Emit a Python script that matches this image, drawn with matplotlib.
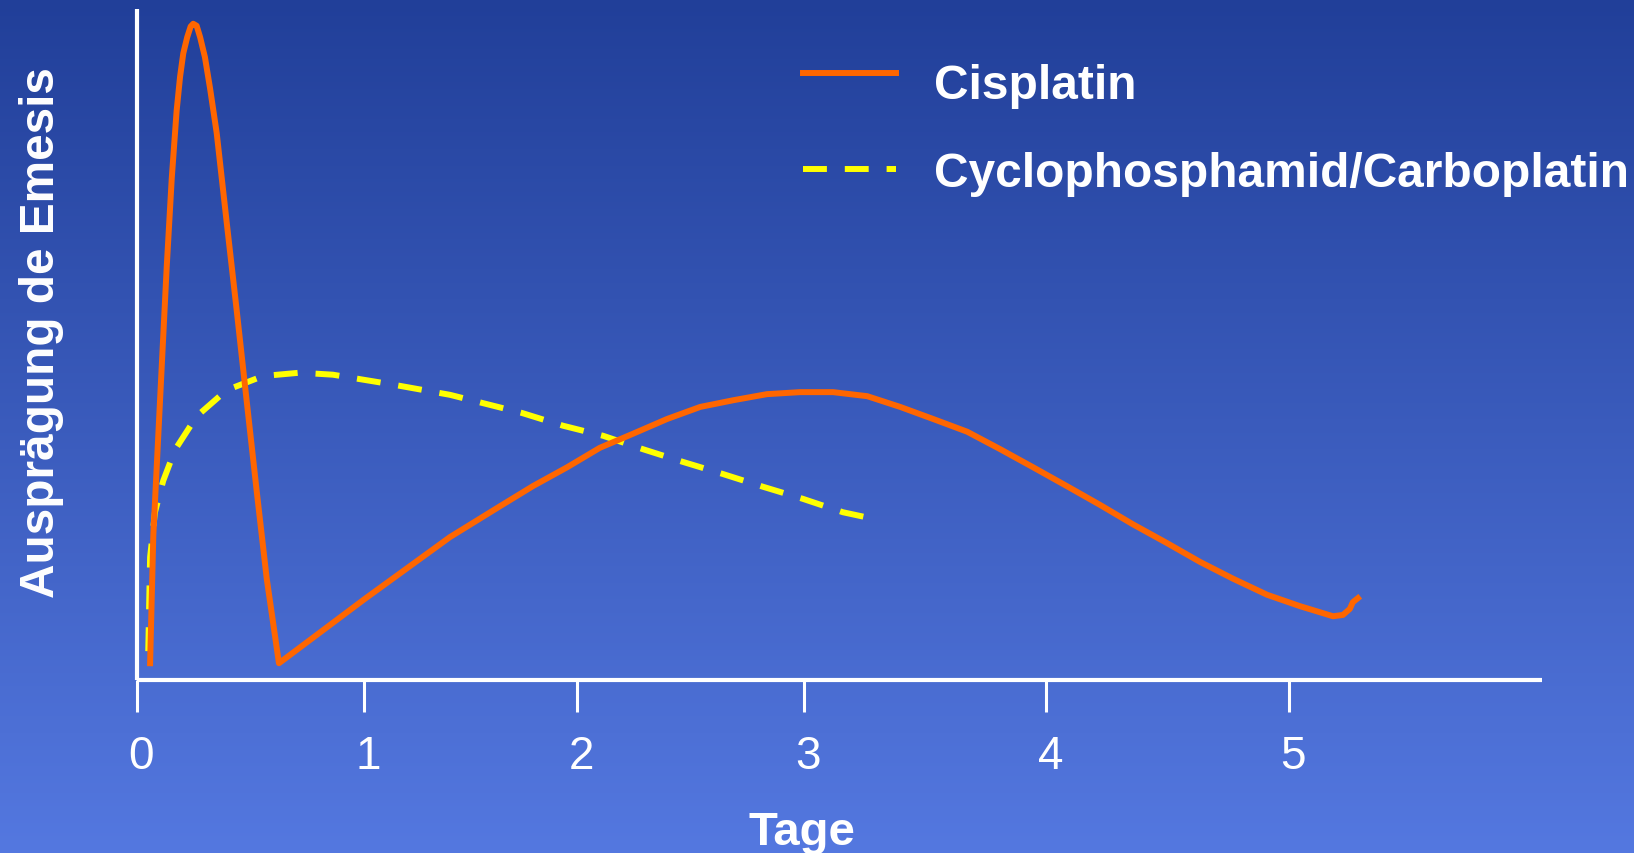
import numpy as np
import matplotlib
matplotlib.use("Agg")
import matplotlib.pyplot as plt
from matplotlib.transforms import Affine2D

# values (x in Tage, y in % of the axis height)
cis_x = [0.059, 0.073, 0.102, 0.131, 0.153, 0.174, 0.189, 0.203, 0.220, 0.235,
         0.246, 0.261, 0.276, 0.297, 0.319, 0.348, 0.391, 0.435, 0.478, 0.521,
         0.565, 0.618, 0.991, 1.360, 1.577, 1.720, 1.868, 2.010, 2.154, 2.302,
         2.446, 2.590, 2.735, 2.879, 3.022, 3.170, 3.313, 3.456, 3.604, 3.747,
         3.890, 4.036, 4.180, 4.323, 4.471, 4.614, 4.757, 4.905, 5.048, 5.134,
         5.191, 5.234, 5.264, 5.277, 5.299]
cis_y = [2.5, 21.6, 41.6, 61.5, 74.8, 84.8, 89.9, 93.4, 95.8, 97.4,
         97.8, 97.5, 95.8, 92.8, 88.2, 81.5, 68.3, 55.0, 41.6, 28.3,
         15.1, 2.5, 12.1, 21.3, 25.9, 28.9, 31.7, 34.6, 36.7, 38.9,
         40.7, 41.7, 42.6, 42.9, 42.9, 42.3, 40.7, 38.9, 37.0, 34.4,
         31.7, 28.9, 26.1, 23.2, 20.4, 17.6, 15.1, 12.7, 11.0, 10.1,
         9.5, 9.7, 10.6, 11.6, 12.2]

cyc_x = [0.051, 0.059, 0.080, 0.116, 0.167, 0.261, 0.391, 0.549, 0.709, 0.852,
         1.100, 1.360, 1.672, 1.850, 2.024, 2.197, 2.371, 2.544, 2.718, 2.891,
         3.065, 3.200]
cyc_y = [4.3, 18.3, 25.0, 29.7, 34.3, 39.3, 43.2, 45.3, 45.8, 45.5,
         44.1, 42.5, 39.8, 37.9, 36.4, 34.4, 32.5, 30.7, 28.8, 27.0,
         25.0, 24.0]

# the ticks on the slide are not evenly spaced
tick_pos = [0, 0.986, 1.912, 2.898, 3.947, 5.0]
tick_labels = ["0", "1", "2", "3", "4", "5"]

plt.rcParams['font.family'] = ['Liberation Sans', 'DejaVu Sans']

W, H = 1634, 854
fig = plt.figure(figsize=(W / 100, H / 100), dpi=100)

# background gradient
bg = fig.add_axes([0, 0, 1, 1], zorder=-10)
top = np.array([33, 63, 153]) / 255
bot = np.array([84, 120, 224]) / 255
t = np.linspace(0, 1, 256)[:, None]
grad = (top[None, :] * (1 - t) + bot[None, :] * t)[:, None, :]
bg.imshow(grad, aspect='auto', extent=[0, 1, 0, 1], origin='upper')
bg.axis('off')

x0, x1 = 136.5, 1542
y_axis, y_top = 681, 10
ax = fig.add_axes([x0 / W, 1 - y_axis / H, (x1 - x0) / W, (y_axis - y_top) / H])
ax.patch.set_alpha(0)

ax.plot(cyc_x, cyc_y, color='#ffff00', lw=4.3, dashes=(4, 3),
        dash_capstyle='butt', dash_joinstyle='round',
        label='Cyclophosphamid/Carboplatin', zorder=2)
ax.plot(cis_x, cis_y, color='#ff6600', lw=4.3, solid_joinstyle='round',
        label='Cisplatin', zorder=3)

ax.set_xlim(0, (x1 - x0) / 230.5)
ax.set_ylim(0, 100)

for s in ['top', 'right']:
    ax.spines[s].set_visible(False)
for s in ['left', 'bottom']:
    ax.spines[s].set_color('white')
    ax.spines[s].set_linewidth(3)
    ax.spines[s].set_capstyle('butt')

ax.set_yticks([])
ax.set_xticks(tick_pos)
ax.set_xticklabels(tick_labels)
ax.tick_params(axis='x', colors='white', length=23, width=2.2, pad=16,
               labelsize=33)
# labels sit a little right of their ticks on the slide
for lab in ax.get_xticklabels():
    lab.set_transform(lab.get_transform() + Affine2D().translate(4, 0))

fig.text(802 / W, 1 - 833 / H, 'Tage', ha='center', va='center',
         color='white', fontsize=34, fontweight='bold')
fig.text(42 / W, 1 - 333 / H, 'Ausprägung de Emesis', ha='center',
         va='center', rotation=90, color='white', fontsize=34.4,
         fontweight='bold')

handles, labels = ax.get_legend_handles_labels()
leg = ax.legend(handles[::-1], labels[::-1], loc='upper left',
                bbox_to_anchor=(803 / W, 1 - 64 / H),
                bbox_transform=fig.transFigure, frameon=False,
                prop={'size': 34.5, 'weight': 'bold'}, handlelength=1.95,
                handletextpad=0.78, labelspacing=0.9, borderpad=0,
                borderaxespad=0)
for txt in leg.get_texts():
    txt.set_color('white')
# the orange key line sits a bit above its text
h0 = leg.legend_handles[0]
h0.set_transform(h0.get_transform() + Affine2D().translate(0, 8))

fig.savefig('out.png', dpi=100)
